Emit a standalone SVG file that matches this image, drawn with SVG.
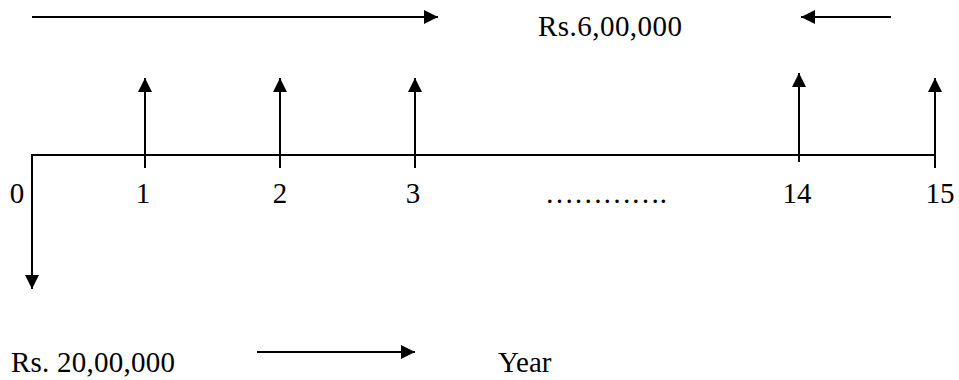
<svg xmlns="http://www.w3.org/2000/svg" width="959" height="380" viewBox="0 0 959 380">
<style>
line{stroke:#000;stroke-width:2;fill:none}
text{font-family:"Liberation Serif","Times New Roman",serif;font-size:29px;fill:#000}
.c{text-anchor:middle}
</style>
<defs>
<marker id="ah" markerUnits="userSpaceOnUse" markerWidth="16" markerHeight="16" viewBox="0 0 16 16" refX="15" refY="8" orient="auto">
<path d="M1,1 L15,8 L1,15 Z" fill="#000"/>
</marker>
</defs>
<rect width="959" height="380" fill="#fff"/>
<g id="connectors">
<line x1="32" y1="17" x2="438" y2="17" marker-end="url(#ah)"/>
<line x1="891" y1="17" x2="801" y2="17" marker-end="url(#ah)"/>
<line x1="31" y1="155" x2="935" y2="155"/>
<line x1="32" y1="154" x2="32" y2="289" marker-end="url(#ah)"/>
<line x1="145" y1="168" x2="145" y2="78" marker-end="url(#ah)"/>
<line x1="280" y1="168" x2="280" y2="78" marker-end="url(#ah)"/>
<line x1="415" y1="168" x2="415" y2="78" marker-end="url(#ah)"/>
<line x1="799" y1="162" x2="799" y2="73" marker-end="url(#ah)"/>
<line x1="935" y1="168" x2="935" y2="78" marker-end="url(#ah)"/>
<line x1="257" y1="352" x2="415" y2="352" marker-end="url(#ah)"/>
</g>
<g id="label-inflow"><text x="538" y="36" textLength="144">Rs.6,00,000</text></g>
<g id="tick-0"><text x="17" y="203" class="c">0</text></g>
<g id="tick-1"><text x="143" y="203" class="c">1</text></g>
<g id="tick-2"><text x="280" y="203" class="c">2</text></g>
<g id="tick-3"><text x="413" y="203" class="c">3</text></g>
<g id="tick-dots"><text x="545" y="203" textLength="122">………….</text></g>
<g id="tick-14"><text x="797" y="203" class="c">14</text></g>
<g id="tick-15"><text x="940" y="203" class="c">15</text></g>
<g id="label-outflow"><text x="11" y="372" textLength="164">Rs. 20,00,000</text></g>
<g id="label-year"><text x="498" y="372">Year</text></g>
</svg>
